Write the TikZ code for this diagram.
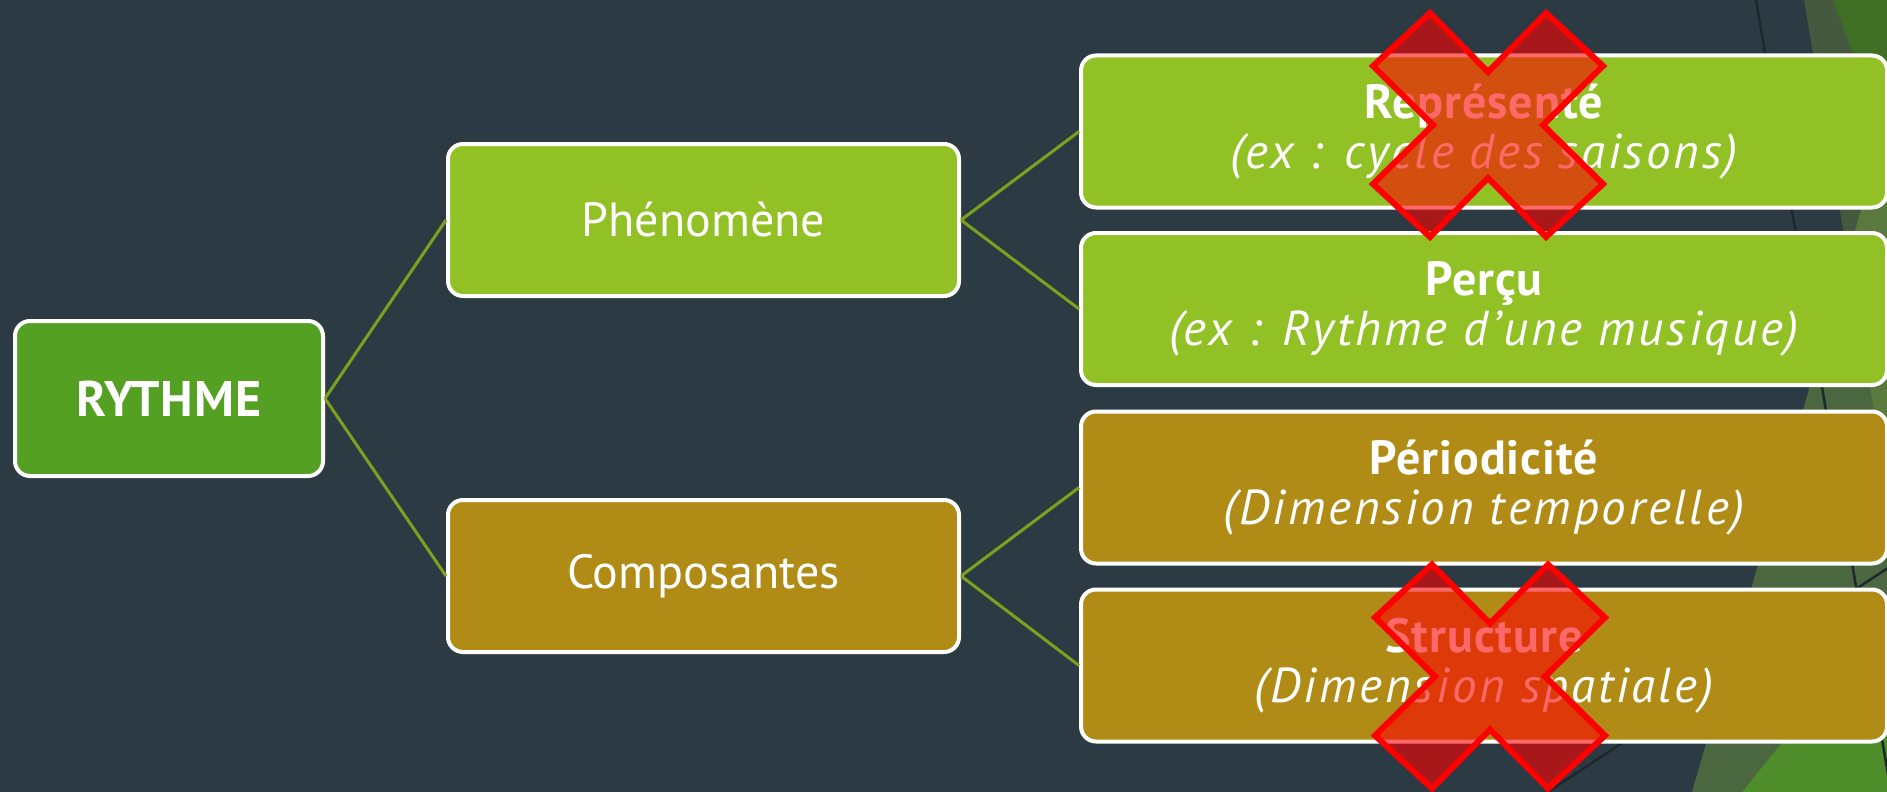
\documentclass[tikz,border=0pt]{standalone}
\usepackage{fontspec}
\setmainfont{PT Sans}
\newcommand{\boldline}[1]{{\bfseries\addfontfeature{LetterSpace=2}#1}}
\newcommand{\itline}[1]{{\fontsize{49}{50}\selectfont\itshape\addfontfeature{LetterSpace=6}#1}}
\definecolor{bg}{HTML}{2C3B43}
\definecolor{topgreen}{RGB}{107,135,58}
\definecolor{botgreen}{RGB}{120,170,58}
\definecolor{darkgreen}{HTML}{3F6E25}
\definecolor{brightgreen}{HTML}{4F8C2A}
\definecolor{bgline}{HTML}{1E282C}
\definecolor{rootfill}{HTML}{54A022}
\definecolor{lightfill}{HTML}{92C126}
\definecolor{goldfill}{HTML}{B08B15}
\definecolor{connc}{HTML}{7DA11F}
\begin{document}
\begin{tikzpicture}[x=1pt,y=-1pt,
  box/.style={draw=white, line width=4pt, rounded corners=15pt, inner sep=0pt,
    align=center, text=white, font=\fontsize{48}{50}\selectfont},
  leftbox/.style={box, minimum width=511pt, minimum height=152pt},
  rightbox/.style={box, minimum width=806pt, minimum height=152pt},
  conn/.style={draw=connc, line width=3pt},
  xmark/.style={draw=red, line width=6pt, fill=red, fill opacity=0.59, line join=miter},
  deco/.style={draw=bgline, line width=2.5pt}]
\useasboundingbox (0,0) rectangle (1887,792);
\begin{scope}
\clip (0,0) rectangle (1887,792);
\fill[bg] (0,0) rectangle (1887,792);
\fill[topgreen, opacity=0.4] (1804,0) -- (1960,0) -- (1960,792) -- (1939,792) -- cycle;
\fill[botgreen, opacity=0.4] (1692,792) -- (1922,0) -- (1960,0) -- (1960,792) -- cycle;
\fill[darkgreen] (1833,0) -- (1960,0) -- (1960,343) -- cycle;
\fill[brightgreen] (1742,792) -- (1960,523) -- (1960,792) -- cycle;
\draw[deco] (1756,0) -- (1891,792);
\draw[deco] (1900,560) -- (1540,797);
\end{scope}

\node[box, fill=rootfill, minimum width=308pt, minimum height=155pt, font=\fontsize{50}{52}\selectfont\bfseries] (rythme) at (169,398.5) {\addfontfeature{LetterSpace=2}RYTHME};
\node[leftbox, fill=lightfill] (phen) at (703.5,220) {Phénomène};
\node[leftbox, fill=goldfill] (comp) at (703.5,576) {Composantes};

\node[rightbox, fill=lightfill] (rep) at (1484,131.5) {\boldline{Représenté}\\\itline{(ex : cycle des saisons)}};
\node[rightbox, fill=lightfill] (percu) at (1484,309) {\boldline{Perçu}\\\itline{(ex : Rythme d’une musique)}};
\node[rightbox, fill=goldfill] (perio) at (1484,487.5) {\boldline{Périodicité}\\\itline{(Dimension temporelle)}};
\node[rightbox, fill=goldfill] (struct) at (1484,665.5) {\boldline{Structure}\\\itline{(Dimension spatiale)}};

\draw[conn] (rythme.east) -- (phen.west);
\draw[conn] (rythme.east) -- (comp.west);
\draw[conn] (phen.east) -- (rep.west);
\draw[conn] (phen.east) -- (percu.west);
\draw[conn] (comp.east) -- (perio.west);
\draw[conn] (comp.east) -- (struct.west);

\draw[xmark, shift={(1488,125)}] (-58,-112) -- (0,-53) -- (58,-112) -- (115,-59) -- (55,0) -- (115,59) -- (58,112) -- (0,53) -- (-58,112) -- (-115,59) -- (-55,0) -- (-115,-59) -- cycle;
\draw[xmark, shift={(1490,676.5)}] (-58,-112) -- (0,-53) -- (58,-112) -- (115,-59) -- (55,0) -- (115,59) -- (58,112) -- (0,53) -- (-58,112) -- (-115,59) -- (-55,0) -- (-115,-59) -- cycle;
\end{tikzpicture}
\end{document}
